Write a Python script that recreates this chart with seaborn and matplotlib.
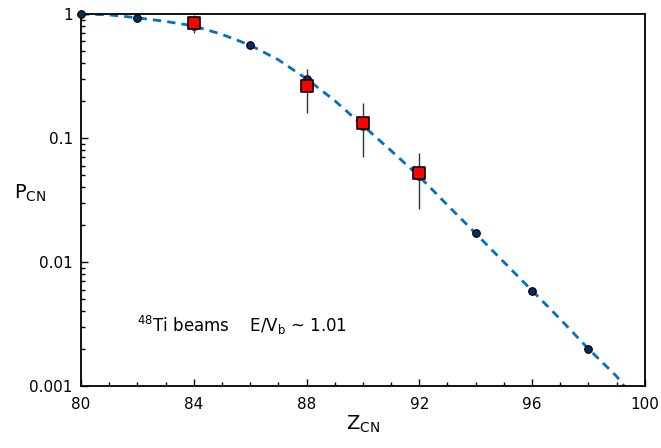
import numpy as np
import pandas as pd
import matplotlib
matplotlib.use('Agg')
import matplotlib.pyplot as plt
import seaborn as sns
from matplotlib.ticker import MultipleLocator, LogLocator, NullFormatter, FixedLocator, FixedFormatter

# 数据
# 计算点（圆点）
z_calc = [80, 82, 84, 86, 88, 90, 92, 94, 96, 98]
p_calc = [1.0, 0.93, 0.80, 0.56, 0.30, 0.125, 0.049, 0.017, 0.0059, 0.0020]

# 拟合曲线（虚线）
z_curve = [80, 81, 82, 83, 84, 85, 86, 87, 88, 89, 90, 91, 92, 93, 94, 95, 96, 97, 98, 99, 99.3]
p_curve = [1.0, 0.982, 0.93, 0.87, 0.80, 0.684, 0.56, 0.427, 0.30, 0.20, 0.126,
           0.079, 0.049, 0.0288, 0.017, 0.0100, 0.0059, 0.00347, 0.0020, 0.00120, 0.00098]

# 实验点（红色方块）及误差
z_exp = [84, 88, 90, 92]
p_exp = [0.85, 0.26, 0.132, 0.052]
p_lo = [0.70, 0.16, 0.070, 0.027]
p_hi = [0.98, 0.36, 0.19, 0.076]

y_ticks = [0.001, 0.01, 0.1, 1]
y_labels = ['0.001', '0.01', '0.1', '1']
x_ticks = [80, 84, 88, 92, 96, 100]

sns.set_style('white')
plt.rcParams['font.family'] = ['DejaVu Sans']
plt.rcParams['text.color'] = 'black'
plt.rcParams['axes.labelcolor'] = 'black'

fig = plt.figure(figsize=(6.61, 4.48), dpi=100)
ax = fig.add_axes([0.1225, 0.138, 0.853, 0.831])

df_curve = pd.DataFrame({'z': z_curve, 'p': p_curve})
df_calc = pd.DataFrame({'z': z_calc, 'p': p_calc})
df_exp = pd.DataFrame({'z': z_exp, 'p': p_exp})

# 虚线
sns.lineplot(data=df_curve, x='z', y='p', ax=ax, color='#0070c0', lw=2,
             linestyle=(0, (3, 2.2)), sort=False, estimator=None, zorder=2)
# 圆点
sns.scatterplot(data=df_calc, x='z', y='p', ax=ax, color='#0b2a63', edgecolor='black',
                s=30, linewidth=0.8, zorder=3, clip_on=False)
# 误差棒
yerr = [np.array(p_exp) - np.array(p_lo), np.array(p_hi) - np.array(p_exp)]
ax.errorbar(z_exp, p_exp, yerr=yerr, fmt='none', ecolor='#333333', elinewidth=1, capsize=0, zorder=4)
# 红色方块
sns.scatterplot(data=df_exp, x='z', y='p', ax=ax, color='#ff0000', edgecolor='black',
                marker='s', s=80, linewidth=1.2, zorder=5, clip_on=False)

ax.set_yscale('log')
ax.set_xlim(80, 100)
ax.set_ylim(0.001, 1)

ax.xaxis.set_major_locator(FixedLocator(x_ticks))
ax.xaxis.set_minor_locator(MultipleLocator(1))
ax.yaxis.set_major_locator(FixedLocator(y_ticks))
ax.yaxis.set_major_formatter(FixedFormatter(y_labels))
ax.yaxis.set_minor_locator(LogLocator(base=10, subs=np.arange(2, 10)))
ax.yaxis.set_minor_formatter(NullFormatter())

ax.tick_params(axis='both', which='major', direction='in', length=5, width=1,
               labelsize=11, colors='black', pad=6, bottom=True, left=True, top=False, right=False)
ax.tick_params(axis='both', which='minor', direction='in', length=3, width=1,
               colors='black', bottom=True, left=True, top=False, right=False)
ax.tick_params(axis='x', which='major', pad=8)

for sp in ax.spines.values():
    sp.set_color('black')
    sp.set_linewidth(1.3)

ax.set_xlabel(r'$\mathregular{Z_{CN}}$', fontsize=14, labelpad=1, color='black')
ax.set_ylabel(r'$\mathregular{P_{CN}}$', fontsize=14, rotation=0, labelpad=8, color='black')
ax.yaxis.set_label_coords(-0.09, 0.49)

ax.text(82.0, 0.0031, r'$\mathregular{^{48}}$Ti beams    E/V$\mathregular{_b}$ ~ 1.01',
        fontsize=12, ha='left', va='center', color='black')

fig.savefig('out.png', dpi=100)
